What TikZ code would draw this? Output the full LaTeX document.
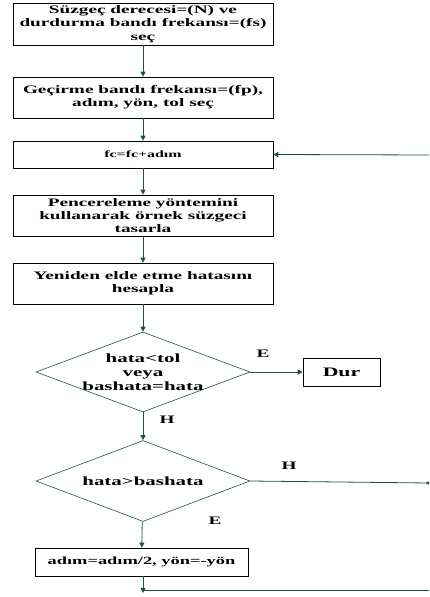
\documentclass[tikz,border=0pt]{standalone}
\usepackage{fontspec}
\setmainfont{Liberation Serif}
\newfontfamily\widefont[FakeStretch=1.68]{Liberation Serif}
\usetikzlibrary{arrows.meta,shapes.geometric}
\definecolor{lg}{RGB}{30,85,52}
\tikzset{
  box/.style={draw=black, fill=white, line width=0.6bp, minimum width=260bp, inner sep=0pt, align=center, font=\widefont\fontsize{11.5}{13.3}\selectfont\bfseries},
  dia/.style={draw=lg, diamond, line width=0.6bp, minimum width=214bp, minimum height=80bp, inner sep=0pt},
  dtext/.style={inner sep=0pt, align=center, font=\widefont\fontsize{12.5}{14}\selectfont\bfseries},
  conn/.style={draw=lg, line width=0.8bp, -{Triangle[length=5bp,width=5bp]}},
  plain/.style={draw=lg, line width=0.8bp},
  lbl/.style={font=\widefont\fontsize{11.5}{13}\selectfont\bfseries, inner sep=0pt}
}
\begin{document}
\begin{tikzpicture}[x=1bp,y=-1bp]
\useasboundingbox (0,0) rectangle (429,597);
\node[box, minimum height=42bp] (b1) at (143,24) {Süzgeç derecesi=(N) ve\\durdurma bandı frekansı=(fs)\\seç};
\node[box, minimum height=41bp] (b2) at (143,97.5) {Geçirme bandı frekansı=(fp),\\adım, yön, tol seç};
\node[box, minimum height=27bp, font=\widefont\fontsize{9.5}{11}\selectfont\bfseries] (b3) at (143,154.5) {fc=fc+adım};
\node[box, minimum height=41bp] (b4) at (143,215.5) {Pencereleme yöntemini\\kullanarak örnek süzgeci\\tasarla};
\node[box, minimum height=41bp] (b5) at (143,283.5) {Yeniden elde etme hatasını\\hesapla};
\node[dia] (d1) at (143,372) {};
\node[dtext] (d1t) at (d1.center) {hata<tol\\veya\\bashata=hata};
\node[box, minimum width=77bp, minimum height=28bp, font=\widefont\fontsize{13}{15}\selectfont\bfseries] (dur) at (341.5,372) {Dur};
\node[dia, minimum height=81bp] (d2) at (143,481) {};
\node[dtext] (d2t) at (d2.center) {hata>bashata};
\node[box, minimum width=213bp, minimum height=28bp, font=\widefont\fontsize{11}{13}\selectfont\bfseries] (b6) at (141.5,562) {adım=adım/2, yön=-yön};
\coordinate (r1) at (429,155);
\coordinate (r2) at (429,483);
\coordinate (bl) at (429,590);
\coordinate (bm) at (143,590);
\coordinate (bt) at (143,593);
\path[conn] (b1) -- (b2);
\path[conn] (b2) -- (b3);
\path[conn] (b3) -- (b4);
\path[conn] (b4) -- (b5);
\path[conn] (b5) -- (d1);
\path[conn] (d1) -- (dur);
\path[conn] (d1) -- (d2);
\path[conn] (d2) -- (b6);
\path[conn] (r1) -- (b3.east);
\path[draw=lg, line width=0.8bp, -{Square[length=2.5bp,width=2.5bp]}] (d2.east) -- (r2);
\path[conn] (b6.south -| bm) -- (bt);
\path[plain] (bl) -- (bm);
\node[lbl] (e1) at (263,354) {E};
\node[lbl] (h1) at (167,420) {H};
\node[lbl] (h2) at (289,466) {H};
\node[lbl] (e2) at (215,521) {E};
\end{tikzpicture}
\end{document}
